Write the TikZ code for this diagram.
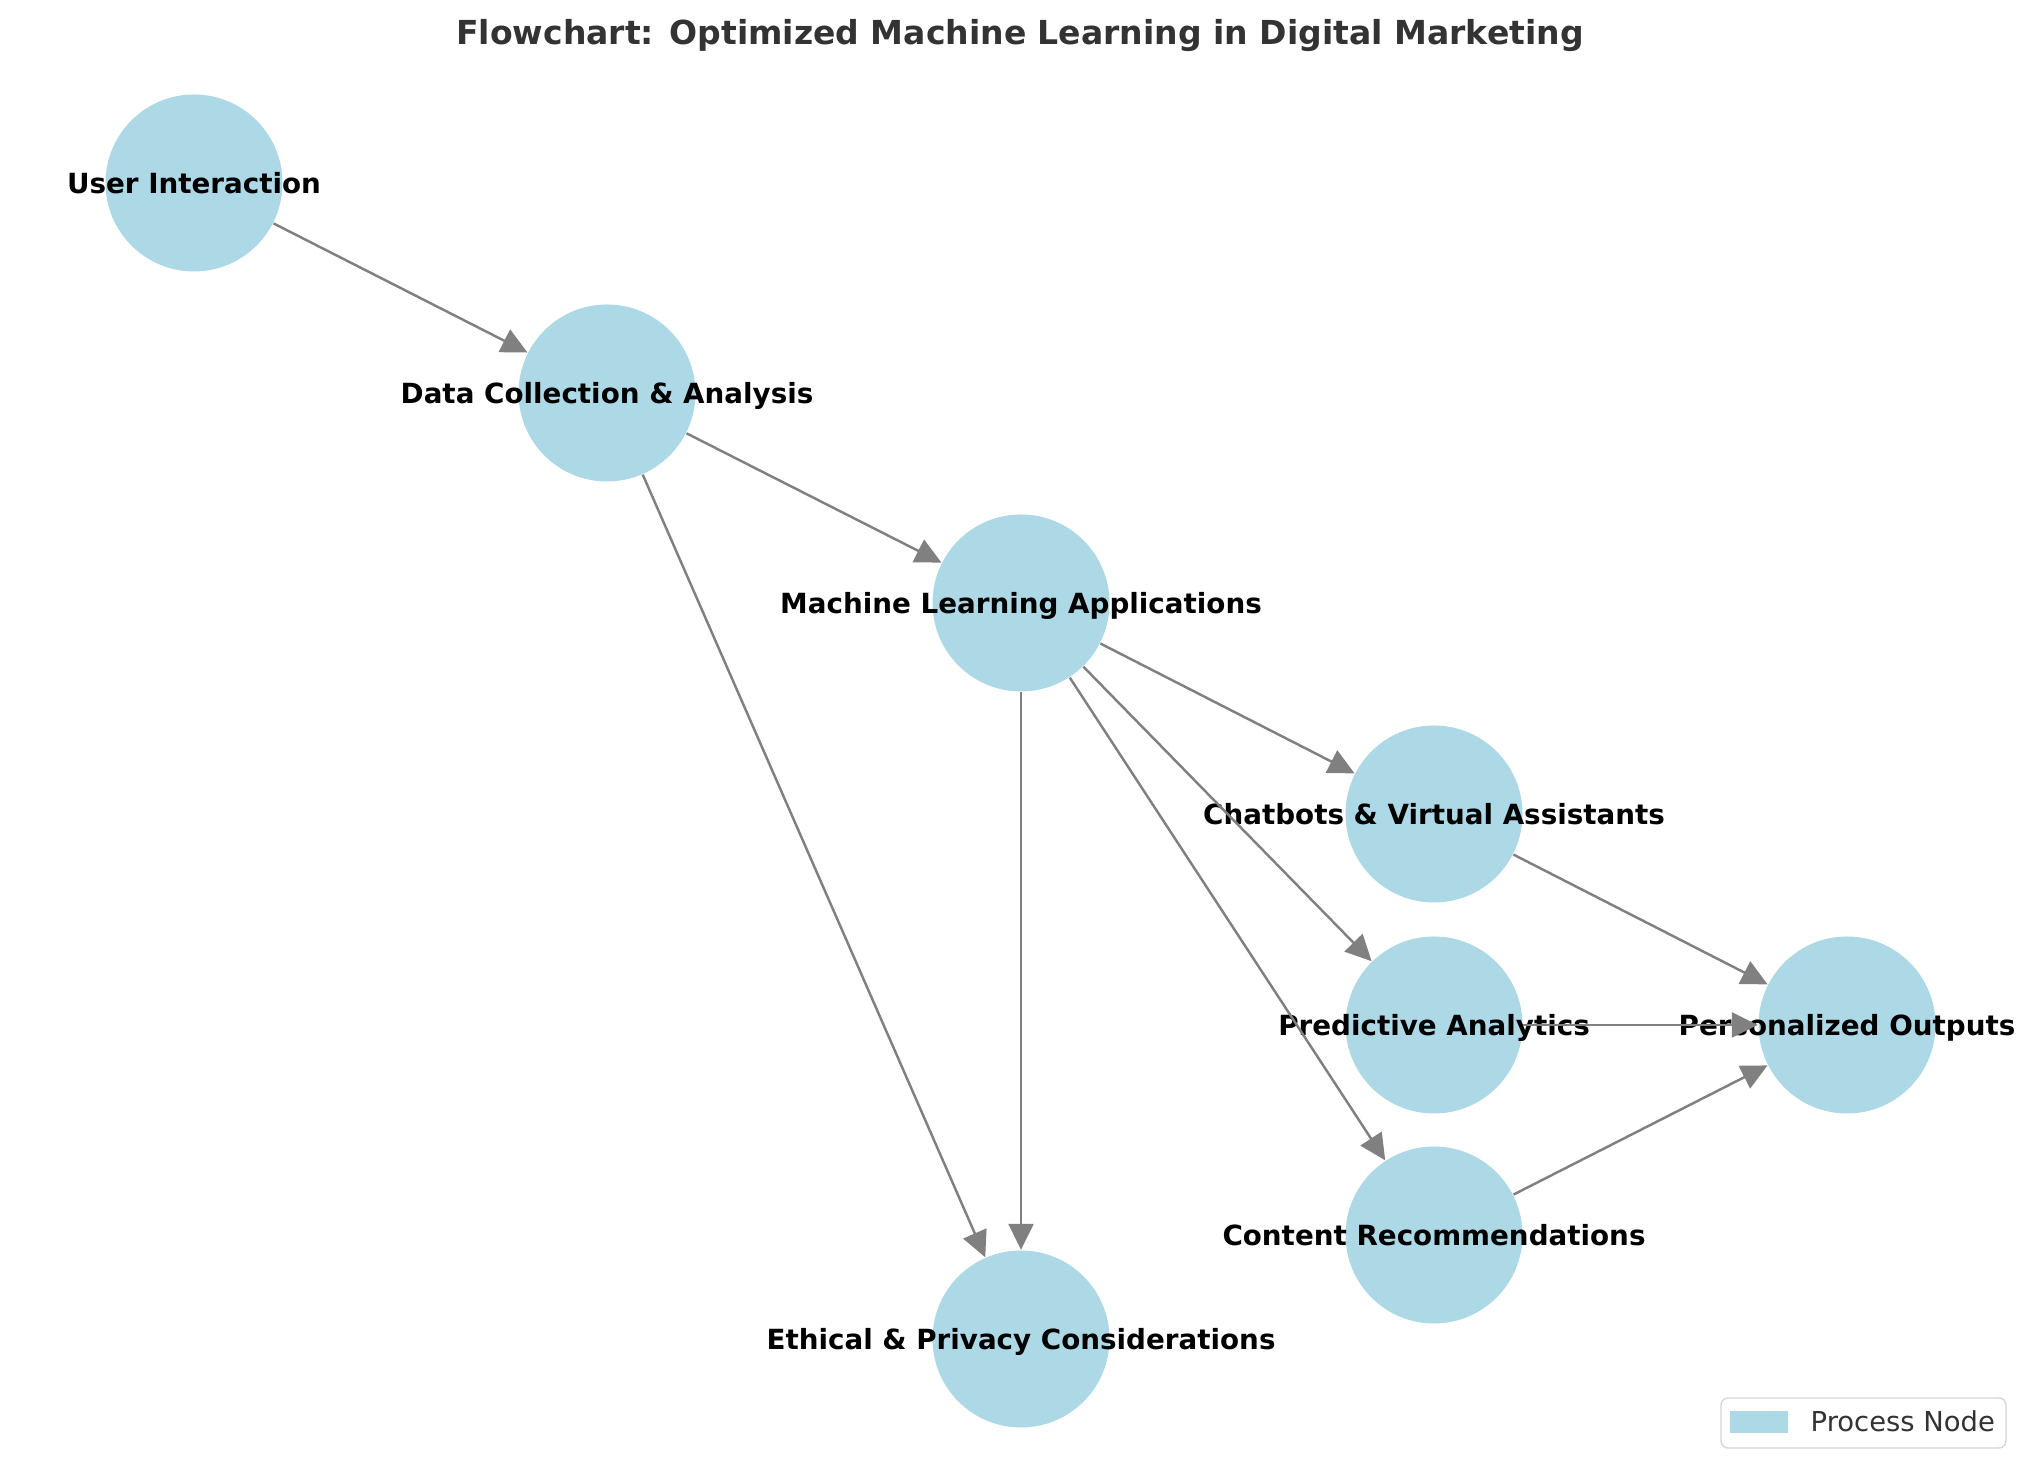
\documentclass[tikz,border=0pt]{standalone}
\usepackage{fontspec}
\setmainfont{DejaVu Sans}
\usepackage{xcolor}
\usetikzlibrary{arrows.meta, positioning}
\definecolor{nodeblue}{HTML}{ADD8E6}
\definecolor{edgegray}{HTML}{808080}
\definecolor{titlegray}{HTML}{333333}
\definecolor{framegray}{HTML}{D6D6D6}
\tikzset{
  procnode/.style={
    circle, fill=nodeblue, minimum size=1.77cm, inner sep=0pt
  },
  proclabel/.style={
    font=\fontsize{7.9}{9}\selectfont\bfseries, text=black,
    text height=0.72em, text depth=0.14em, inner sep=0pt
  },
  procarrow/.style={
    -{Triangle[length=2.6mm, width=2.5mm]}, line width=0.7pt, color=edgegray
  },
}

\begin{document}
\begin{tikzpicture}
  \useasboundingbox (0,0) rectangle (20.39,14.82);

  % Title
  \node[font=\fontsize{9.4}{11}\selectfont\bfseries, text=titlegray, anchor=base]
    (title) at (10.2,14.37) {Flowchart: Optimized Machine Learning in Digital Marketing};

  % Process nodes
  \node[procnode] (ui) at (1.94,12.99) {};
  \node[procnode] (dc) at (6.07,10.89) {};
  \node[procnode] (ml) at (10.21,8.79) {};
  \node[procnode] (cb) at (14.34,6.68) {};
  \node[procnode] (pa) at (14.34,4.57) {};
  \node[procnode] (po) at (18.47,4.57) {};
  \node[procnode] (cr) at (14.34,2.47) {};
  \node[procnode] (ep) at (10.21,1.43) {};

  % Labels
  \node[proclabel] (ui-l) at (ui.center) {User Interaction};
  \node[proclabel] (dc-l) at (dc.center) {Data Collection \& Analysis};
  \node[proclabel] (ml-l) at (ml.center) {Machine Learning Applications};
  \node[proclabel] (cb-l) at (cb.center) {Chatbots \& Virtual Assistants};
  \node[proclabel] (pa-l) at (pa.center) {Predictive Analytics};
  \node[proclabel] (po-l) at (po.center) {Personalized Outputs};
  \node[proclabel] (cr-l) at (cr.center) {Content Recommendations};
  \node[proclabel] (ep-l) at (ep.center) {Ethical \& Privacy Considerations};

  % Edges
  \draw[procarrow] (ui) -- (dc);
  \draw[procarrow] (dc) -- (ml);
  \draw[procarrow] (dc) -- (ep);
  \draw[procarrow] (ml) -- (cb);
  \draw[procarrow] (ml) -- (pa);
  \draw[procarrow] (ml) -- (cr);
  \draw[procarrow] (ml) -- (ep);
  \draw[procarrow] (cb) -- (po);
  \draw[procarrow] (pa) -- (po);
  \draw[procarrow] (cr) -- (po);

  % Legend
  \node[draw=framegray, line width=0.4pt, rounded corners=2pt, fill=white,
    minimum width=2.85cm, minimum height=0.5cm] (legend) at (18.635,0.59) {};
  \node[fill=nodeblue, minimum width=0.58cm, minimum height=0.22cm, inner sep=0pt]
    (swatch) at (17.59,0.60) {};
  \node[font=\fontsize{7.8}{9}\selectfont, text=titlegray, anchor=base west, inner sep=0pt]
    (legend-l) at (18.10,0.50) {Process Node};
\end{tikzpicture}
\end{document}
